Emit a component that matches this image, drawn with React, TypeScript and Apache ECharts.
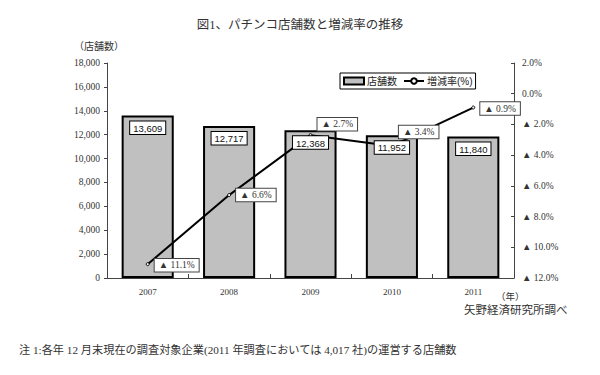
import React, { useEffect, useRef } from "react";
import * as echarts from "echarts";

const years = ["2007", "2008", "2009", "2010", "2011"];
const storeCounts = [13609, 12717, 12368, 11952, 11840];
const changeRates = [-11.1, -6.6, -2.7, -3.4, -0.9];
const rateLabelOffsets = [
  [0, 1],
  [0, 0],
  [0, -11],
  [0, -14],
  [0, 1],
];

const SERIF = "'Liberation Serif', 'Noto Sans CJK JP', serif";
const SANS = "'Liberation Sans', 'Noto Sans CJK JP', sans-serif";

const fmtInt = (v: number) => v.toLocaleString("en-US");
const fmtRate = (v: number) =>
  v < 0 ? "▲ " + Math.abs(v).toFixed(1) + "%" : v.toFixed(1) + "%";

export default function App() {
  const ref = useRef<HTMLDivElement>(null);
  useEffect(() => {
    if (!ref.current) return;
    const chart = echarts.init(ref.current, undefined, { renderer: "svg" });
    chart.setOption({
      animation: false,
      backgroundColor: "#fff",
      textStyle: { fontFamily: SERIF },
      grid: { left: 107, right: 86, top: 63, bottom: 97 },
      legend: {
        left: 340,
        top: 73,
        data: [
          { name: "店舗数", icon: "rect" },
          { name: "増減率(%)" },
        ],
        borderColor: "#000",
        borderWidth: 1,
        borderRadius: 0,
        padding: [3, 3],
        itemWidth: 20,
        itemHeight: 7,
        itemGap: 6,
        textStyle: { fontSize: 10, color: "#222", fontFamily: SANS, padding: [0, 0, 0, -2] },
      },
      xAxis: {
        type: "category",
        data: years,
        axisLine: { lineStyle: { color: "#444", width: 1 } },
        axisTick: { show: true, inside: true, length: 4, lineStyle: { color: "#444" } },
        axisLabel: { margin: 9, fontSize: 9, color: "#333", fontFamily: SERIF },
      },
      yAxis: [
        {
          type: "value",
          min: 0,
          max: 18000,
          interval: 2000,
          splitLine: { show: false },
          axisLine: { show: true, lineStyle: { color: "#444" } },
          axisTick: { show: true, length: 3, lineStyle: { color: "#444" } },
          axisLabel: { fontSize: 9.5, color: "#333", margin: 7, formatter: fmtInt },
        },
        {
          type: "value",
          min: -12,
          max: 2,
          interval: 2,
          position: "right",
          splitLine: { show: false },
          axisLine: { show: true, lineStyle: { color: "#444" } },
          axisTick: { show: true, inside: true, length: 3, lineStyle: { color: "#444" } },
          axisLabel: { fontSize: 9.5, color: "#333", margin: 8, formatter: fmtRate },
        },
      ],
      series: [
        {
          name: "店舗数",
          type: "bar",
          data: storeCounts,
          barWidth: "64%",
          z: 1,
          itemStyle: { color: "#c0c0c0", borderColor: "#000", borderWidth: 2 },
        },
        {
          name: "店舗数ラベル",
          type: "bar",
          data: storeCounts,
          barWidth: "64%",
          barGap: "-100%",
          z: 5,
          silent: true,
          itemStyle: { color: "transparent" },
          label: {
            show: true,
            position: "insideTop",
            distance: 6,
            formatter: (p: any) => fmtInt(p.value),
            fontSize: 9.5,
            fontFamily: SANS,
            color: "#111",
            backgroundColor: "#fff",
            borderColor: "#000",
            borderWidth: 1,
            padding: [2, 3, 1, 3],
          },
        },
        {
          name: "増減率(%)",
          type: "line",
          yAxisIndex: 1,
          data: changeRates.map((v, i) => ({
            value: v,
            label: { offset: rateLabelOffsets[i] },
          })),
          z: 3,
          symbol: "circle",
          symbolSize: 3,
          lineStyle: { color: "#000", width: 2 },
          itemStyle: { color: "#fff", borderColor: "#000", borderWidth: 1 },
          label: {
            show: true,
            position: "right",
            distance: 5,
            formatter: (p: any) => fmtRate(p.value),
            fontSize: 9.5,
            fontFamily: SERIF,
            color: "#333",
            backgroundColor: "#fff",
            borderColor: "#444",
            borderWidth: 1,
            padding: [2, 4, 1, 4],
          },
        },
      ],
      graphic: [
        {
          type: "text",
          left: "center",
          top: 19,
          style: {
            text: "図1、パチンコ店舗数と増減率の推移",
            fontSize: 12.5,
            fontFamily: SERIF,
            fill: "#333",
          },
        },
        {
          type: "text",
          left: 74,
          top: 41,
          style: { text: "（店舗数）", fontSize: 10, fontFamily: SERIF, fill: "#333" },
        },
        {
          type: "text",
          left: 496,
          top: 292,
          style: { text: "（年）", fontSize: 9.5, fontFamily: SERIF, fill: "#333" },
        },
        {
          type: "text",
          left: 464,
          top: 304,
          style: { text: "矢野経済研究所調べ", fontSize: 11.5, fontFamily: SERIF, fill: "#333" },
        },
        {
          type: "text",
          left: 19,
          top: 344,
          style: {
            text: "注 1:各年 12 月末現在の調査対象企業(2011 年調査においては 4,017 社)の運営する店舗数",
            fontSize: 11.2,
            fontFamily: SERIF,
            fill: "#333",
          },
        },
      ],
    });
    return () => chart.dispose();
  }, []);
  return <div ref={ref} style={{ width: 600, height: 375, position: "absolute", left: 0, top: 0 }} />;
}
